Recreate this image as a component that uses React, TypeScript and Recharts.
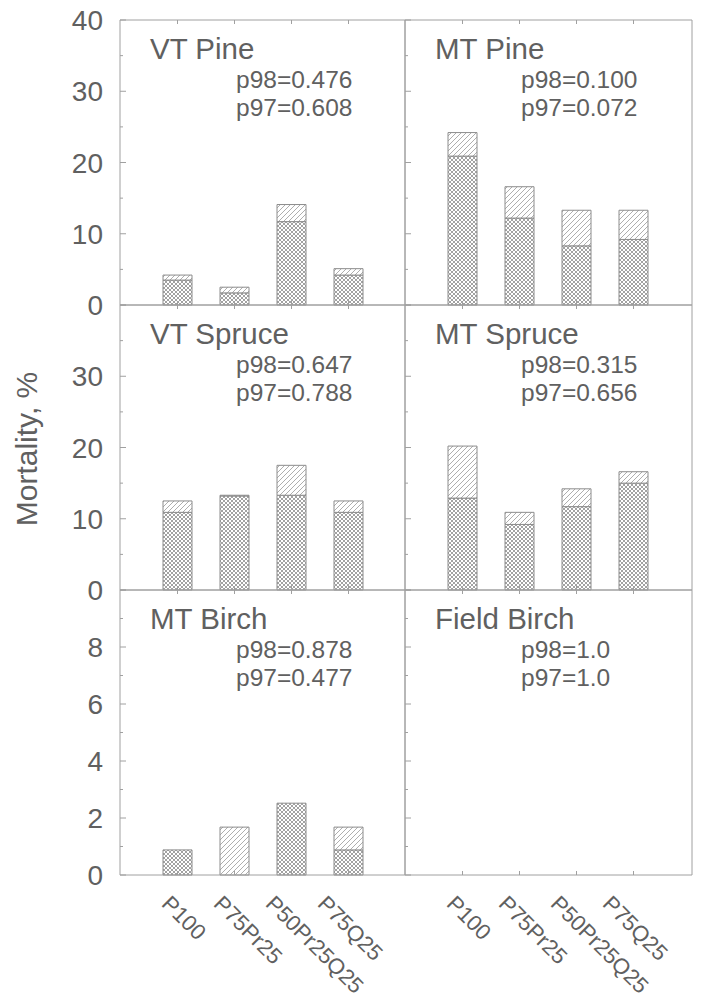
import React from 'react';
import { BarChart, Bar, XAxis, YAxis } from 'recharts';

const categories = ['P100', 'P75Pr25', 'P50Pr25Q25', 'P75Q25'];

// lower (cross-hatched) and upper (hatched) parts of each bar, %
const vtPineCross = [3.5, 1.7, 11.7, 4.2];
const vtPineHatch = [0.7, 0.8, 2.4, 0.9];
const mtPineCross = [20.9, 12.2, 8.3, 9.2];
const mtPineHatch = [3.3, 4.4, 5.0, 4.1];
const vtSpruceCross = [10.9, 13.2, 13.3, 10.9];
const vtSpruceHatch = [1.6, 0.1, 4.2, 1.6];
const mtSpruceCross = [12.9, 9.2, 11.7, 15.0];
const mtSpruceHatch = [7.3, 1.7, 2.5, 1.6];
const mtBirchCross = [0.88, 0, 2.52, 0.88];
const mtBirchHatch = [0, 1.68, 0, 0.8];
const fieldBirchCross = [0, 0, 0, 0];
const fieldBirchHatch = [0, 0, 0, 0];

const conifTicks = [0, 5, 10, 15, 20, 25, 30, 35, 40];
const conifMajor = [0, 10, 20, 30, 40];
const topLabels = [0, 10, 20, 30, 40];
const midLabels = [0, 10, 20, 30];
const birchTicks = [0, 1, 2, 3, 4, 5, 6, 7, 8, 9, 10];
const birchMajor = [0, 2, 4, 6, 8, 10];
const birchLabels = [0, 2, 4, 6, 8];

const INK = '#606060';
const LINE = '#a0a0a0';
const BAR_LINE = '#8c8c8c';
const FONT = '"Liberation Sans", Arial, Helvetica, sans-serif';

const PLOT_H = 285;
const ROOM = 20;

const rowsOf = (cross: number[], hatch: number[]) =>
  categories.map((name, i) => ({ name, cross: cross[i], hatch: hatch[i] }));

type PanelProps = {
  left: number;
  top: number;
  plotW: number;
  rows: { name: string; cross: number; hatch: number }[];
  yMax: number;
  ticks: number[];
  major: number[];
  labels: number[];
  showY: boolean;
  showX: boolean;
};

function Panel({ left, top, plotW, rows, yMax, ticks, major, labels, showY, showX }: PanelProps) {
  // axes need a size of at least 1px to be drawn
  const yW = showY ? 120 : 1;
  const bottomH = showX ? 128 : 1;
  const bottomRoom = showX ? 0 : ROOM;
  const pad = { left: 29, right: plotW - 29 - 4 * 57 };

  const leftTick = (p: any) => {
    const v = p.payload.value;
    const len = major.includes(v) ? 6 : 3;
    return (
      <g>
        <line x1={p.x} y1={p.y} x2={p.x + len} y2={p.y} stroke={LINE} />
        {showY && labels.includes(v) && (
          <text x={p.x - 17} y={p.y} dy="0.36em" textAnchor="end" fontSize={28} fill={INK} fontFamily={FONT}>
            {v}
          </text>
        )}
      </g>
    );
  };
  const rightTick = (p: any) => {
    const len = major.includes(p.payload.value) ? 6 : 3;
    return <line x1={p.x} y1={p.y} x2={p.x - len} y2={p.y} stroke={LINE} />;
  };
  const topTick = (p: any) => <line x1={p.x} y1={p.y} x2={p.x} y2={p.y + 4} stroke={LINE} />;
  const bottomTick = (p: any) => {
    const lx = p.x - 17 - 5 * p.index;
    const ly = p.y + 30;
    return (
      <g>
        <line x1={p.x} y1={p.y} x2={p.x} y2={p.y - 4} stroke={LINE} />
        {showX && (
          <text
            x={lx}
            y={ly}
            transform={`rotate(45, ${lx}, ${ly})`}
            textAnchor="start"
            fontSize={22}
            fill={INK}
            fontFamily={FONT}
          >
            {p.payload.value}
          </text>
        )}
      </g>
    );
  };

  return (
    <div style={{ position: 'absolute', left: left - yW, top: top - ROOM }}>
      <BarChart
        width={yW + plotW + 1}
        height={ROOM + PLOT_H + bottomH + bottomRoom}
        data={rows}
        margin={{ top: ROOM - 1, right: 0, bottom: bottomRoom, left: 0 }}
      >
        <XAxis
          xAxisId="b"
          dataKey="name"
          orientation="bottom"
          height={bottomH}
          padding={pad}
          interval={0}
          stroke={LINE}
          tickLine={false}
          tickSize={0}
          tickMargin={0}
          tick={bottomTick}
        />
        <XAxis
          xAxisId="t"
          dataKey="name"
          orientation="top"
          height={1}
          padding={pad}
          interval={0}
          stroke={LINE}
          tickLine={false}
          tickSize={0}
          tickMargin={0}
          tick={topTick}
        />
        <YAxis
          yAxisId="l"
          type="number"
          width={yW}
          domain={[0, yMax]}
          ticks={ticks}
          interval={0}
          stroke={LINE}
          tickLine={false}
          tickSize={0}
          tickMargin={0}
          tick={leftTick}
        />
        <YAxis
          yAxisId="r"
          orientation="right"
          type="number"
          width={1}
          domain={[0, yMax]}
          ticks={ticks}
          interval={0}
          stroke={LINE}
          tickLine={false}
          tickSize={0}
          tickMargin={0}
          tick={rightTick}
        />
        <Bar
          xAxisId="b"
          yAxisId="l"
          dataKey="cross"
          stackId="s"
          barSize={29}
          fill="url(#xhatch)"
          stroke={BAR_LINE}
          isAnimationActive={false}
        />
        <Bar
          xAxisId="b"
          yAxisId="l"
          dataKey="hatch"
          stackId="s"
          barSize={29}
          fill="url(#dhatch)"
          stroke={BAR_LINE}
          isAnimationActive={false}
        />
      </BarChart>
    </div>
  );
}

const panels = [
  { title: 'VT Pine', p98: '0.476', p97: '0.608', cross: vtPineCross, hatch: vtPineHatch, col: 0, row: 0 },
  { title: 'MT Pine', p98: '0.100', p97: '0.072', cross: mtPineCross, hatch: mtPineHatch, col: 1, row: 0 },
  { title: 'VT Spruce', p98: '0.647', p97: '0.788', cross: vtSpruceCross, hatch: vtSpruceHatch, col: 0, row: 1 },
  { title: 'MT Spruce', p98: '0.315', p97: '0.656', cross: mtSpruceCross, hatch: mtSpruceHatch, col: 1, row: 1 },
  { title: 'MT Birch', p98: '0.878', p97: '0.477', cross: mtBirchCross, hatch: mtBirchHatch, col: 0, row: 2 },
  { title: 'Field Birch', p98: '1.0', p97: '1.0', cross: fieldBirchCross, hatch: fieldBirchHatch, col: 1, row: 2 },
];

const COL_LEFT = [120, 405];
const COL_W = [285, 287];
const ROW_TOP = [20, 305, 590];

export default function App() {
  return (
    <div style={{ position: 'absolute', left: 0, top: 0, width: 701, height: 1003, background: '#fff', overflow: 'hidden' }}>
      <svg width={0} height={0} style={{ position: 'absolute' }}>
        <defs>
          <pattern id="xhatch" patternUnits="userSpaceOnUse" width={4} height={4}>
            <rect width={4} height={4} fill="#fff" />
            <path d="M-1,-1 L5,5 M5,-1 L-1,5" stroke="#8a8a8a" strokeWidth={0.8} />
          </pattern>
          <pattern id="dhatch" patternUnits="userSpaceOnUse" width={5} height={5}>
            <rect width={5} height={5} fill="#fff" />
            <path d="M-1,6 L6,-1 M-1,1 L1,-1 M4,6 L6,4" stroke="#999" strokeWidth={0.8} />
          </pattern>
        </defs>
      </svg>

      {panels.map((p) => (
        <Panel
          key={p.title}
          left={COL_LEFT[p.col]}
          top={ROW_TOP[p.row]}
          plotW={COL_W[p.col]}
          rows={rowsOf(p.cross, p.hatch)}
          yMax={p.row === 2 ? 10 : 40}
          ticks={p.row === 2 ? birchTicks : conifTicks}
          major={p.row === 2 ? birchMajor : conifMajor}
          labels={p.row === 0 ? topLabels : p.row === 1 ? midLabels : birchLabels}
          showY={p.col === 0}
          showX={p.row === 2}
        />
      ))}

      <svg
        width={701}
        height={1003}
        style={{ position: 'absolute', left: 0, top: 0, pointerEvents: 'none' }}
        fontFamily={FONT}
        fill={INK}
      >
        {panels.map((p) => {
          const x = COL_LEFT[p.col];
          const y = ROW_TOP[p.row];
          return (
            <g key={p.title}>
              <text x={x + 30} y={y + 39} fontSize={29.5}>
                {p.title}
              </text>
              <text x={x + 116} y={y + 68} fontSize={24.5}>
                {`p98=${p.p98}`}
              </text>
              <text x={x + 116} y={y + 96} fontSize={24.5}>
                {`p97=${p.p97}`}
              </text>
            </g>
          );
        })}
        <text x={37} y={449} fontSize={30} textAnchor="middle" transform="rotate(-90, 37, 449)">
          Mortality, %
        </text>
      </svg>
    </div>
  );
}
